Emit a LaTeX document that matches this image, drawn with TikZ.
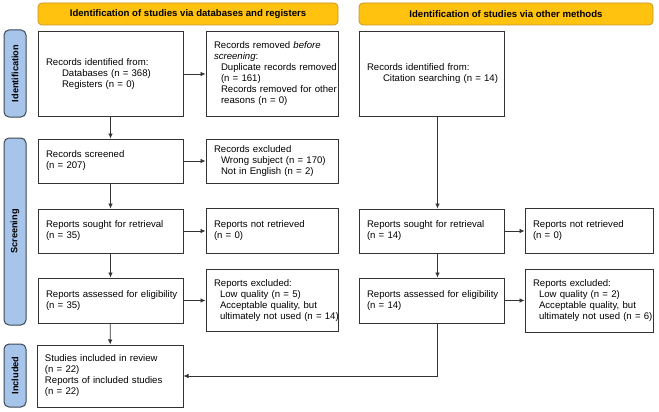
\documentclass[tikz,border=0pt]{standalone}
\usepackage{fontspec}
\setmainfont{Liberation Sans}
\usetikzlibrary{arrows.meta}
\definecolor{headyellow}{HTML}{FFC20E}
\definecolor{headline}{HTML}{C9962B}
\definecolor{sideblue}{HTML}{A7C4EA}
\definecolor{sideline}{HTML}{3D4855}
\newcommand{\boxtext}[1]{\begin{tabular}{@{}l@{}}#1\end{tabular}}

\begin{document}
\begin{tikzpicture}[x=1pt, y=-1pt,
  box/.style={draw=black!80, line width=1pt, rectangle, inner xsep=8pt, inner ysep=0pt, align=left, font=\fontsize{9.6}{10.9}\selectfont},
  wide/.style={minimum width=145pt, text width=129pt},
  slim/.style={minimum width=132pt, text width=116pt},
  head/.style={draw=headline, fill=headyellow, rounded corners=4pt, line width=0.8pt, minimum height=22pt, font=\fontsize{9.6}{11}\selectfont\bfseries},
  side/.style={draw=sideline, fill=sideblue, rounded corners=5pt, line width=1pt, minimum height=22pt, rotate=90, font=\fontsize{9.2}{11}\selectfont\bfseries},
  link/.style={draw=black!80, line width=0.7pt, -{Latex[length=5pt,width=4.5pt]}}]
\useasboundingbox (0,0) rectangle (659,412);

\node[head, minimum width=300pt] (H1) at (188, 14) {Identification of studies via databases and registers};
\node[head, minimum width=294pt] (H2) at (506, 14) {Identification of studies via other methods};

\node[side, minimum width=87pt] (S1) at (15, 73.5) {Identification};
\node[side, minimum width=187pt] (S2) at (15, 231.5) {Screening};
\node[side, minimum width=63pt] (S3) at (15, 375.5) {Included};

\node[box, wide, minimum height=84pt] (A) at (110.5, 74) {\boxtext{Records identified from:\\\hspace*{16pt}Databases (n = 368)\\\hspace*{16pt}Registers (n = 0)}};
\node[box, slim, minimum height=84pt] (B) at (272, 74) {\boxtext{Records removed \textit{before}\\\textit{screening}:\\\hspace*{7pt}Duplicate records removed\\\hspace*{7pt}(n = 161)\\\hspace*{7pt}Records removed for other\\\hspace*{7pt}reasons (n = 0)}};
\node[box, wide, minimum height=84pt] (C) at (431.5, 74) {\boxtext{Records identified from:\\\hspace*{16pt}Citation searching (n = 14)}};

\node[box, wide, minimum height=44pt] (D) at (110.5, 161) {\boxtext{Records screened\\(n = 207)}};
\node[box, slim, minimum height=44pt] (E) at (272, 161) {\boxtext{Records excluded\\\hspace*{7pt}Wrong subject (n = 170)\\\hspace*{7pt}Not in English (n = 2)}};

\node[box, wide, minimum height=44pt] (F) at (110.5, 231) {\boxtext{Reports sought for retrieval\\(n = 35)}};
\node[box, slim, minimum height=45pt] (G) at (272, 231) {\boxtext{Reports not retrieved\\(n = 0)}};
\node[box, wide, minimum height=44pt] (H) at (431.5, 231) {\boxtext{Reports sought for retrieval\\(n = 14)}};
\node[box, minimum width=128pt, text width=112pt, minimum height=45pt] (I) at (589, 231) {\boxtext{Reports not retrieved\\(n = 0)}};

\node[box, wide, minimum height=45pt] (J) at (110.5, 300.5) {\boxtext{Reports assessed for eligibility\\(n = 35)}};
\node[box, slim, minimum height=62pt] (K) at (272, 300.5) {\boxtext{Reports excluded:\\\hspace*{6pt}Low quality (n = 5)\\\hspace*{6pt}Acceptable quality, but\\\hspace*{6pt}ultimately not used (n = 14)}};
\node[box, wide, minimum height=45pt] (L) at (431.5, 300.5) {\boxtext{Reports assessed for eligibility\\(n = 14)}};
\node[box, minimum width=128pt, text width=112pt, minimum height=63pt] (M) at (589, 300.5) {\boxtext{Reports excluded:\\\hspace*{6pt}Low quality (n = 2)\\\hspace*{6pt}Acceptable quality, but\\\hspace*{6pt}ultimately not used (n = 6)}};

\node[box, minimum width=146pt, text width=130pt, minimum height=62pt] (N) at (110, 376) {\boxtext{Studies included in review\\(n = 22)\\Reports of included studies\\(n = 22)}};

\draw[link] (A) -- (B);
\draw[link] (A) -- (D);
\draw[link] ([xshift=6pt]C.south) -- ([xshift=6pt]H.north);
\draw[link] (D) -- (E);
\draw[link] (D) -- (F);
\draw[link] (F) -- (G);
\draw[link] (F) -- (J);
\draw[link] (H) -- (I);
\draw[link] ([xshift=6pt]H.south) -- ([xshift=6pt]L.north);
\draw[link] (J) -- (K);
\draw[link] (J) -- (N);
\draw[link] (L) -- (M);
\draw[link] ([xshift=6pt]L.south) |- (N);
\end{tikzpicture}
\end{document}
